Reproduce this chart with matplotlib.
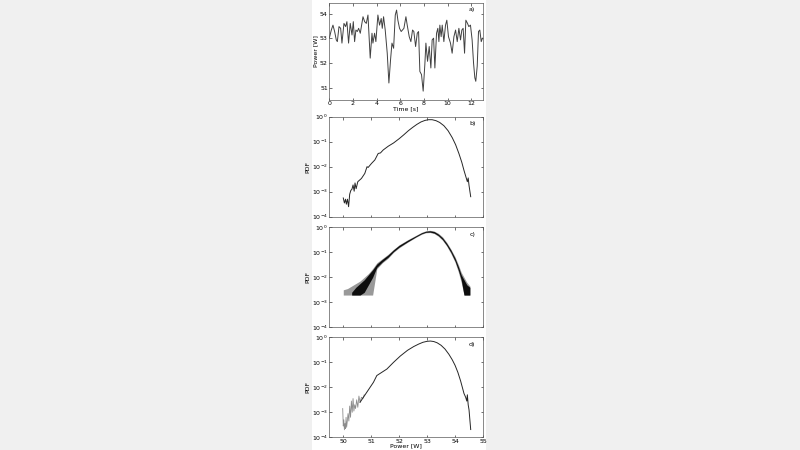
import numpy as np
import matplotlib
matplotlib.use('Agg')
import matplotlib.pyplot as plt
from matplotlib.patches import Rectangle

# a) power time series
time_s = [0.00, 0.17, 0.31, 0.45, 0.59, 0.68, 0.82, 0.96, 1.07, 1.24, 1.38, 1.49, 1.63, 1.77,
          1.92, 2.03, 2.14, 2.25, 2.37, 2.48, 2.62, 2.85, 2.99, 3.13, 3.27, 3.46, 3.61, 3.69,
          3.83, 3.94, 4.11, 4.25, 4.39, 4.48, 4.59, 4.73, 4.90, 5.04, 5.18, 5.30, 5.44, 5.58,
          5.69, 5.80, 5.94, 6.08, 6.31, 6.48, 6.59, 6.76, 6.90, 7.04, 7.15, 7.30, 7.44, 7.55,
          7.66, 7.80, 7.94, 8.08, 8.17, 8.31, 8.45, 8.59, 8.70, 8.82, 8.93, 9.07, 9.18, 9.27,
          9.35, 9.46, 9.55, 9.69, 9.83, 9.94, 10.08, 10.25, 10.39, 10.54, 10.68, 10.82, 10.96,
          11.10, 11.21, 11.32, 11.44, 11.55, 11.69, 11.80, 11.94, 12.08, 12.20, 12.31, 12.39,
          12.51, 12.62, 12.73, 12.85, 12.96]
power_w = [53.01, 53.34, 53.54, 53.28, 52.94, 52.87, 53.48, 53.41, 52.81, 53.61, 53.48, 53.68,
           52.81, 53.61, 53.14, 53.68, 52.87, 53.34, 53.28, 53.41, 53.21, 53.88, 53.68, 53.61,
           53.95, 52.20, 53.21, 52.81, 53.21, 52.87, 53.95, 53.54, 53.81, 53.41, 53.88, 53.34,
           52.40, 51.19, 52.13, 52.81, 52.60, 53.95, 54.15, 53.74, 53.41, 53.28, 53.41, 53.88,
           53.54, 53.07, 52.87, 53.34, 53.28, 52.67, 53.21, 53.28, 51.66, 51.53, 50.86, 51.93,
           52.81, 52.07, 52.67, 51.80, 52.94, 53.01, 51.80, 53.21, 53.41, 52.87, 53.54, 53.07,
           53.54, 52.87, 53.54, 53.74, 53.07, 52.81, 52.40, 53.07, 53.34, 52.87, 53.41, 52.94,
           53.34, 53.41, 52.40, 53.74, 53.61, 53.48, 53.54, 52.94, 52.00, 51.40, 51.26, 51.87,
           53.28, 53.34, 52.87, 53.01]

# b) PDF (log10)
b_power = [50.0, 50.04, 50.08, 50.11, 50.15, 50.19, 50.23, 50.27, 50.31, 50.35, 50.39, 50.42,
           50.46, 50.52, 50.65, 50.77, 50.85, 50.89, 51.01, 51.13, 51.25, 51.33, 51.43, 51.61,
           51.8, 52.0, 52.17, 52.33, 52.48, 52.63, 52.78, 52.92, 53.05, 53.18, 53.32, 53.45,
           53.6, 53.75, 53.9, 54.02, 54.14, 54.24, 54.32, 54.4, 54.44, 54.47, 54.5, 54.56]
b_logpdf = [-3.25, -3.45, -3.3, -3.5, -3.3, -3.6, -3.1, -2.95, -2.9, -2.73, -2.98, -2.65,
            -2.88, -2.6, -2.47, -2.27, -2.0, -2.03, -1.87, -1.73, -1.47, -1.45, -1.33, -1.18,
            -1.05, -0.88, -0.72, -0.56, -0.43, -0.31, -0.21, -0.15, -0.12, -0.12, -0.16, -0.23,
            -0.36, -0.56, -0.84, -1.12, -1.48, -1.82, -2.15, -2.45, -2.6, -2.45, -2.75, -3.2]

# c) ensemble of PDFs (log10 envelopes)
c_power = [50.0, 50.15, 50.3, 50.45, 50.6, 50.75, 50.9, 51.05, 51.2, 51.4, 51.6, 51.8, 52.0,
           52.3, 52.6, 52.8, 52.95, 53.1, 53.25, 53.4, 53.55, 53.7, 53.85, 54.0, 54.12, 54.22,
           54.32, 54.42, 54.53]
c_outer_lo = [-2.71, -2.71, -2.71, -2.71, -2.71, -2.71, -2.71, -2.71, -1.66, -1.42, -1.24,
              -1.0, -0.82, -0.6, -0.4, -0.28, -0.22, -0.21, -0.25, -0.36, -0.52, -0.75, -1.05,
              -1.4, -1.8, -2.2, -2.71, -2.71, -2.71]
c_outer_hi = [-2.5, -2.45, -2.35, -2.25, -2.15, -2.0, -1.85, -1.65, -1.42, -1.25, -1.08,
              -0.88, -0.7, -0.5, -0.32, -0.2, -0.14, -0.12, -0.15, -0.24, -0.38, -0.6, -0.87,
              -1.18, -1.5, -1.8, -2.0, -2.2, -2.35]
c_inner_lo = [np.nan, np.nan, -2.71, -2.71, -2.71, -2.6, -2.3, -2.0, -1.6, -1.38, -1.2, -0.97,
              -0.79, -0.58, -0.38, -0.26, -0.2, -0.19, -0.23, -0.33, -0.49, -0.72, -1.0,
              -1.35, -1.72, -2.1, -2.71, -2.71, -2.71]
c_inner_hi = [np.nan, np.nan, -2.6, -2.4, -2.25, -2.1, -1.9, -1.7, -1.47, -1.28, -1.11, -0.9,
              -0.72, -0.52, -0.34, -0.22, -0.16, -0.14, -0.17, -0.27, -0.42, -0.64, -0.91,
              -1.24, -1.58, -1.9, -2.1, -2.3, -2.4]

# d) PDF with gray noisy tail (log10)
d_tail_power = [49.98, 50.0, 50.02, 50.04, 50.06, 50.08, 50.1, 50.12, 50.14, 50.17, 50.2,
                50.23, 50.26, 50.29, 50.32, 50.35, 50.38, 50.41, 50.44, 50.48, 50.52, 50.56,
                50.6, 50.65, 50.7, 50.75]
d_tail_logpdf = [-2.85, -3.55, -3.3, -3.7, -3.45, -3.65, -3.2, -3.6, -3.4, -3.05, -3.35,
                 -2.75, -3.2, -2.55, -3.0, -2.45, -2.95, -2.7, -2.85, -2.5, -2.8, -2.35, -2.6,
                 -2.4, -2.45, -2.3]
d_power = [50.6, 50.72, 50.84, 50.96, 51.08, 51.2, 51.38, 51.56, 51.8, 52.04, 52.3, 52.52,
           52.7, 52.85, 53.0, 53.12, 53.24, 53.36, 53.5, 53.64, 53.78, 53.9, 54.0, 54.1, 54.2,
           54.32, 54.38, 54.42, 54.44, 54.47, 54.5, 54.53, 54.56]
d_logpdf = [-2.6, -2.4, -2.2, -2.0, -1.8, -1.53, -1.4, -1.27, -1.0, -0.75, -0.52, -0.37,
            -0.27, -0.2, -0.16, -0.15, -0.17, -0.22, -0.32, -0.47, -0.68, -0.9, -1.12, -1.4,
            -1.75, -2.25, -2.4, -2.55, -2.3, -2.7, -2.9, -3.3, -3.69]

pdf_ticks = [1e-4, 1e-3, 1e-2, 1e-1, 1e0]
pdf_ticklabels = ['$10^{-4}$', '$10^{-3}$', '$10^{-2}$', '$10^{-1}$', '$10^{0}$']
power_ticks = [50, 51, 52, 53, 54, 55]

fs = 4.5
fig = plt.figure(figsize=(8, 4.5), dpi=100, facecolor='#f0f0f0')
fig.patches.append(Rectangle((312 / 800, 0), 174 / 800, 1, transform=fig.transFigure,
                             facecolor='white', edgecolor='none', zorder=-5))

left, width = 329.3 / 800, 153.7 / 800


def style(ax):
    ax.set_zorder(2)
    ax.tick_params(direction='in', length=1.8, width=0.4, labelsize=fs, pad=1,
                   top=True, right=True, which='major')
    ax.tick_params(which='minor', length=0)
    for s in ax.spines.values():
        s.set_linewidth(0.5)
        s.set_color('0.35')
    ax.set_facecolor('white')


# panel a
ax_a = fig.add_axes([left, 1 - 100 / 450, width, 97.3 / 450])
ax_a.plot(time_s, power_w, color='0.25', lw=0.7)
ax_a.set_xlim(0, 13)
ax_a.set_ylim(50.5, 54.45)
ax_a.set_xticks([0, 2, 4, 6, 8, 10, 12])
ax_a.set_yticks([51, 52, 53, 54])
ax_a.set_xlabel('Time [s]', fontsize=fs, labelpad=0)
ax_a.set_ylabel('Power [W]', fontsize=fs, labelpad=1)
ax_a.text(0.93, 0.93, 'a)', transform=ax_a.transAxes, fontsize=fs, ha='center', va='center')
style(ax_a)

tops = [116.7, 227.3, 337.3]
axes_pdf = []
for top, lab in zip(tops, ['b)', 'c)', 'd)']):
    ax = fig.add_axes([left, 1 - (top + 100) / 450, width, 100 / 450])
    ax.set_yscale('log')
    ax.set_ylim(1e-4, 1.0)
    ax.set_xlim(49.5, 55)
    ax.set_xticks(power_ticks)
    ax.set_yticks(pdf_ticks)
    ax.set_yticklabels(pdf_ticklabels)
    ax.set_ylabel('PDF', fontsize=fs, labelpad=1)
    ax.text(0.93, 0.93, lab, transform=ax.transAxes, fontsize=fs, ha='center', va='center')
    style(ax)
    axes_pdf.append(ax)

ax_b, ax_c, ax_d = axes_pdf

ax_b.plot(b_power, 10 ** np.array(b_logpdf), color='0.15', lw=0.7)
ax_b.set_xticklabels([])

ax_c.fill_between(c_power, 10 ** np.array(c_outer_lo), 10 ** np.array(c_outer_hi),
                  color='0.6', lw=0)
ax_c.fill_between(c_power, 10 ** np.array(c_inner_lo), 10 ** np.array(c_inner_hi),
                  color='0.05', lw=0)
ax_c.set_xticklabels([])

ax_d.plot(d_tail_power, 10 ** np.array(d_tail_logpdf), color='0.55', lw=0.6)
ax_d.plot(d_power, 10 ** np.array(d_logpdf), color='0.15', lw=0.7)
ax_d.set_xticklabels([str(t) for t in power_ticks])
ax_d.set_xlabel('Power [W]', fontsize=fs, labelpad=0)

fig.savefig('out.png', dpi=100, facecolor=fig.get_facecolor())
